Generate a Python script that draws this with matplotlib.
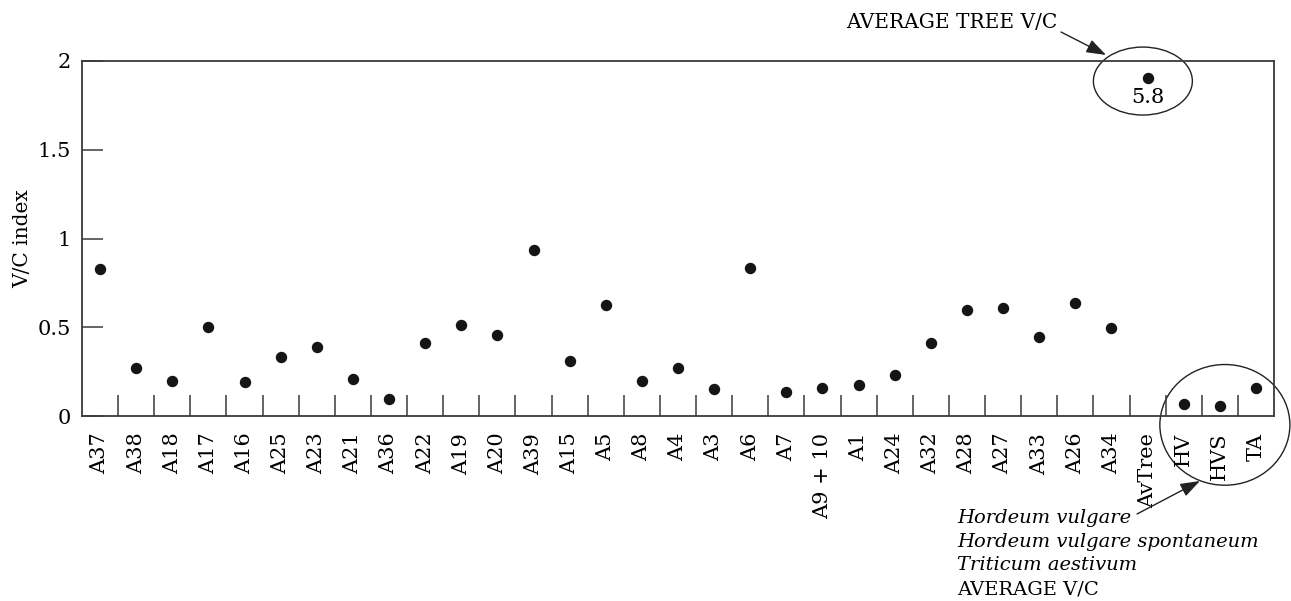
import numpy as np
import matplotlib
matplotlib.use("Agg")
import matplotlib.pyplot as plt
from matplotlib.patches import Ellipse

plt.rcParams['font.family'] = 'DejaVu Serif'

# samples along the x axis
samples = ['A37', 'A38', 'A18', 'A17', 'A16', 'A25', 'A23', 'A21', 'A36', 'A22',
           'A19', 'A20', 'A39', 'A15', 'A5', 'A8', 'A4', 'A3', 'A6', 'A7',
           'A9 + 10', 'A1', 'A24', 'A32', 'A28', 'A27', 'A33', 'A26', 'A34',
           'AvTree', 'HV', 'HVS', 'TA']

# V/C index (AvTree is really 5.8, plotted on a broken scale near the top)
vc_index = [0.83, 0.27, 0.20, 0.50, 0.19, 0.33, 0.39, 0.21, 0.095, 0.41,
            0.515, 0.455, 0.935, 0.31, 0.625, 0.20, 0.27, 0.15, 0.835, 0.135,
            0.16, 0.175, 0.23, 0.41, 0.60, 0.61, 0.445, 0.635, 0.495,
            1.905, 0.065, 0.055, 0.155]
avtree_label = '5.8'

W, H = 1291, 601
fig = plt.figure(figsize=(W / 100, H / 100), dpi=100)
ax = fig.add_axes([82 / W, 1 - 416 / H, (1274 - 82) / W, (416 - 61) / H])

x = np.arange(len(samples))
ax.plot(x, vc_index, 'o', color='#151515', markersize=7.2, clip_on=False)

ax.set_xlim(-0.5, len(samples) - 0.5)
ax.set_ylim(0, 2)

for s in ax.spines.values():
    s.set_color('#3a3a3a')
    s.set_linewidth(1.3)

# y axis
ax.set_yticks([0, 0.5, 1, 1.5, 2])
ax.set_yticklabels(['0', '0.5', '1', '1.5', '2'])
ax.tick_params(axis='y', direction='in', length=15, width=1.1, color='#3a3a3a',
               labelsize=15, pad=8, right=False)
ax.set_ylabel('V/C index', fontsize=14.5, labelpad=4)

# x axis: labels at centres, inward ticks at the boundaries
ax.set_xticks(x)
ax.set_xticklabels(samples, rotation=90, fontsize=15, va='top')
ax.tick_params(axis='x', which='major', length=0, pad=12)
ax.set_xticks(x[:-1] + 0.5, minor=True)
ax.tick_params(axis='x', which='minor', direction='in', length=15, width=1.1,
               color='#3a3a3a', top=False)

arrow = dict(arrowstyle='-|>,head_length=1.2,head_width=0.42',
             color='#222222', lw=1.0, shrinkA=0, shrinkB=0)

# AvTree highlight
ax.text(x[29], vc_index[29] - 0.11, avtree_label, ha='center', va='center',
        fontsize=15)
ax.add_patch(Ellipse((28.87, 1.887), 2.74, 0.383, fill=False, lw=1.0,
                     color='#222222', clip_on=False))
fig.text(1057 / W, 1 - 22 / H, 'AVERAGE TREE V/C', ha='right', va='center',
         fontsize=14.5)
ax.annotate('', xy=(27.85, 2.034), xycoords='data',
            xytext=(1061, H - 32), textcoords='figure pixels',
            arrowprops=arrow, annotation_clip=False)

# cereals highlight
ax.add_patch(Ellipse((31.14, -0.05), 3.6, 0.68, fill=False, lw=1.0,
                     color='#222222', clip_on=False))
ax.annotate('', xy=(30.45, -0.366), xycoords='data',
            xytext=(1137, H - 514), textcoords='figure pixels',
            arrowprops=arrow, annotation_clip=False)

notes = ['Hordeum vulgare', 'Hordeum vulgare spontaneum', 'Triticum aestivum',
         'AVERAGE V/C']
note_styles = ['italic', 'italic', 'italic', 'normal']
for i, (t, st) in enumerate(zip(notes, note_styles)):
    fig.text(957 / W, 1 - (518 + 23.7 * i) / H, t, style=st, fontsize=14,
             ha='left', va='center')

plt.savefig('out.png', dpi=100)
